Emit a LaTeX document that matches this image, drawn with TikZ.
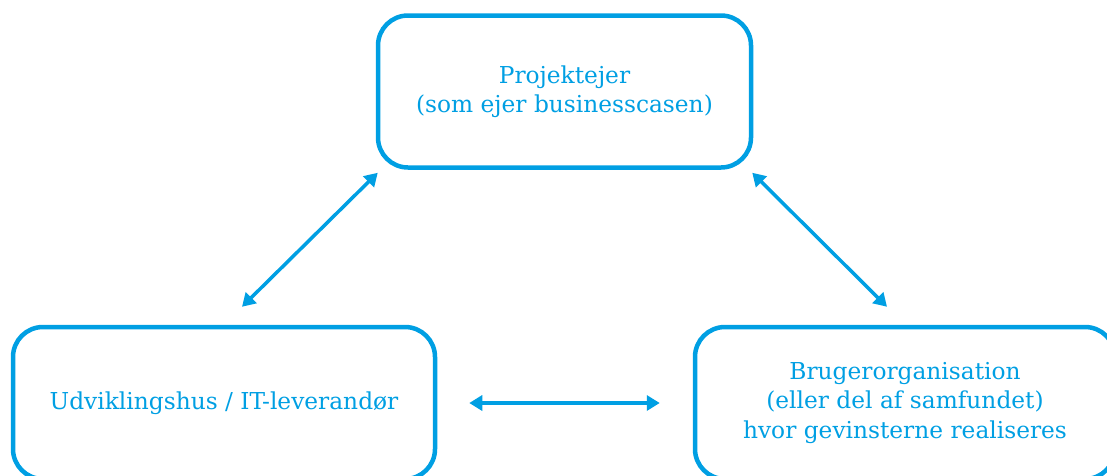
\documentclass[tikz,border=0pt]{standalone}
\usepackage{fontspec}
\setmainfont{DejaVu Serif}
\usetikzlibrary{arrows.meta,calc}
\definecolor{cblue}{RGB}{0,159,227}
\begin{document}
\begin{tikzpicture}[x=1pt,y=1pt,
  box/.style={draw=cblue,line width=4.5pt,rounded corners=30pt,
    minimum height=152pt,text=cblue,align=center,inner sep=0pt,
    font=\fontsize{23.3}{29.5}\selectfont},
  conn/.style={draw=cblue,line width=3.5pt,
    {Triangle[length=13pt,width=15pt]}-{Triangle[length=13pt,width=15pt]}}]
\useasboundingbox (0,0) rectangle (1107,-475);
\clip (0,0) rectangle (1107,-475);
\node[box,minimum width=373pt] (top) at (564.5,-91.5) {Projektejer\\(som ejer businesscasen)};
\node[box,minimum width=422pt] (left) at (224,-403) {Udviklingshus / IT-leverandør};
\node[box,minimum width=420pt] (right) at (905,-403) {Brugerorganisation\\(eller del af samfundet)\\hvor gevinsterne realiseres};
\coordinate (a1) at ($(top.south west)+(2,-3)$);
\coordinate (a2) at ($(left.north)+(18,18)$);
\coordinate (b1) at ($(top.south east)+(-1,-3)$);
\coordinate (b2) at ($(right.north)+(-18,18)$);
\coordinate (c1) at ($(left.east)+(32,0)$);
\coordinate (c2) at ($(right.west)+(-33,0)$);
\draw[conn] (a1) -- (a2);
\draw[conn] (b1) -- (b2);
\draw[conn] (c1) -- (c2);
\end{tikzpicture}
\end{document}
